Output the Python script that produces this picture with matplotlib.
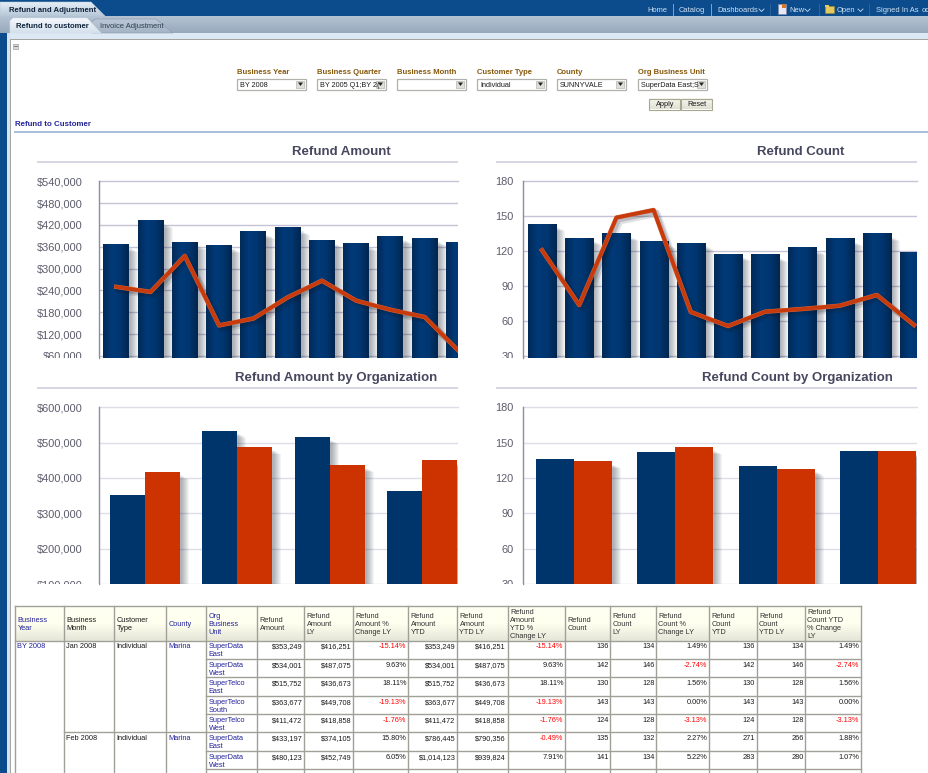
"""Refund and Adjustment dashboard: four charts, filter bar and detail table."""

import matplotlib
matplotlib.use("Agg")
import matplotlib.patheffects as pe
import matplotlib.pyplot as plt
import numpy as np
from matplotlib.colors import LinearSegmentedColormap
from matplotlib.patches import Polygon, Rectangle

WIDTH, HEIGHT = 929, 773

# monthly charts
amount_bars = [365500, 431000, 371000, 363000, 401000, 412000, 376000, 368000, 387000, 382000, 371000]
amount_line = [250000, 236000, 335000, 144000, 163000, 221000, 267000, 212000, 187000, 167000, 73000]
count_bars = [143.4, 131.4, 134.9, 128, 127.1, 117.7, 116.9, 122.9, 130.6, 134.9, 118.6]
count_line = [120.9, 74, 148.9, 155.4, 68, 56, 68.3, 70.6, 73.4, 82.6, 56.9]

# organization charts
org_amount = [353249, 534001, 515752, 363677]
org_amount_ly = [416251, 487075, 436673, 449708]
org_count = [136, 142, 130, 143]
org_count_ly = [134, 146, 128, 143]

amount_ticks = [60000, 120000, 180000, 240000, 300000, 360000, 420000, 480000, 540000]
org_amount_ticks = [100000, 200000, 300000, 400000, 500000, 600000]
count_ticks = [30, 60, 90, 120, 150, 180]

# filter bar
filter_labels = ["Business Year", "Business Quarter", "Business Month", "Customer Type", "County", "Org Business Unit"]
filter_values = ["BY 2008", "BY 2005 Q1;BY 2(", "", "Individual", "SUNNYVALE", "SuperData East;S"]
filter_left = [237, 317, 397, 477, 557, 638]

# table
table_headers = [
    ["Business", "Year"], ["Business", "Month"], ["Customer", "Type"], ["County"],
    ["Org", "Business", "Unit"], ["Refund", "Amount"], ["Refund", "Amount", "LY"],
    ["Refund", "Amount %", "Change LY"], ["Refund", "Amount", "YTD"], ["Refund", "Amount", "YTD LY"],
    ["Refund", "Amount", "YTD %", "Change LY"], ["Refund", "Count"], ["Refund", "Count", "LY"],
    ["Refund", "Count %", "Change LY"], ["Refund", "Count", "YTD"], ["Refund", "Count", "YTD LY"],
    ["Refund", "Count YTD", "% Change", "LY"],
]
org_units = [
    ["SuperData", "East"], ["SuperData", "West"], ["SuperTelco", "East"], ["SuperTelco", "South"],
    ["SuperTelco", "West"], ["SuperData", "East"], ["SuperData", "West"],
]
table_rows = [
    ["$353,249", "$416,251", "-15.14%", "$353,249", "$416,251", "-15.14%", "136", "134", "1.49%", "136", "134", "1.49%"],
    ["$534,001", "$487,075", "9.63%", "$534,001", "$487,075", "9.63%", "142", "146", "-2.74%", "142", "146", "-2.74%"],
    ["$515,752", "$436,673", "18.11%", "$515,752", "$436,673", "18.11%", "130", "128", "1.56%", "130", "128", "1.56%"],
    ["$363,677", "$449,708", "-19.13%", "$363,677", "$449,708", "-19.13%", "143", "143", "0.00%", "143", "143", "0.00%"],
    ["$411,472", "$418,858", "-1.76%", "$411,472", "$418,858", "-1.76%", "124", "128", "-3.13%", "124", "128", "-3.13%"],
    ["$433,197", "$374,105", "15.80%", "$786,445", "$790,356", "-0.49%", "135", "132", "2.27%", "271", "266", "1.88%"],
    ["$480,123", "$452,749", "6.05%", "$1,014,123", "$939,824", "7.91%", "141", "134", "5.22%", "283", "280", "1.07%"],
]
column_edges = [15.5, 64.5, 114.5, 166.5, 206.5, 257.5, 304.5, 353.5, 408.5, 457.5, 508, 565.5, 610.5, 656.5, 709.5, 757, 805.5, 861.5]
row_edges = [641, 659.3, 677.3, 696.3, 714.3, 732.3, 751.3, 769.3, 773]

NAVY = "#00356B"
ORANGE = "#CC3300"
LINE_COLOR = "#C63A0C"
TICK_COLOR = "#5C5C6C"
TITLE_COLOR = "#47475F"
BLUE_TEXT = "#22229A"
DARK_TEXT = "#1A1A1A"
BORDER = "#A0A098"
NAV_BLUE = "#0D4C8C"

plt.rcParams["font.family"] = ["Liberation Sans", "DejaVu Sans"]

BAR_SHADOW = [
    pe.SimplePatchShadow(offset=(dx, dy), shadow_rgbFace="#20283A", alpha=0.05)
    for dx, dy in [(6.5, -5), (5.8, -4.6), (5.1, -4.2), (4.4, -3.8), (3.7, -3.4), (3, -3), (2.2, -2.6), (1.5, -2.2)]
] + [pe.Normal()]
LINE_EFFECTS = [
    pe.SimpleLineShadow(offset=(2.5, -2.5), shadow_color="#101828", alpha=0.12, linewidth=5),
    pe.SimpleLineShadow(offset=(1.5, -1.5), shadow_color="#101828", alpha=0.18, linewidth=4),
    pe.Stroke(linewidth=3.2, foreground="#D8663C"),
    pe.Normal(),
]
bar_gradient = LinearSegmentedColormap.from_list("bar", ["#022A58", "#003A78", "#003670", "#02264F"])


def px_axes(fig, left, right, top, bottom):
    return fig.add_axes([left / WIDTH, 1 - bottom / HEIGHT, (right - left) / WIDTH, (bottom - top) / HEIGHT])


def style_axes(ax, ticks, ylim, xlim, labels, grid_color, pad):
    ax.set_xlim(*xlim)
    ax.set_ylim(*ylim)
    ax.set_yticks(ticks)
    ax.set_yticklabels(labels, fontsize=7.9, color=TICK_COLOR)
    ax.set_xticks([])
    ax.tick_params(axis="y", length=0, pad=pad)
    ax.grid(axis="y", color=grid_color, linewidth=1.0)
    ax.set_axisbelow(True)
    for side in ["top", "right", "bottom"]:
        ax.spines[side].set_visible(False)
    ax.spines["left"].set_color("#8C8CA4")
    ax.spines["left"].set_linewidth(1.0)


def monthly_chart(ax, bars, line, step_width, ticks, ylim, xlim, labels, pad):
    x = np.arange(len(bars))
    ax.set_autoscale_on(False)
    ax.set_xlim(*xlim)
    ax.set_ylim(*ylim)
    drawn = ax.bar(x, bars, width=step_width, color=NAVY, zorder=2, path_effects=BAR_SHADOW)
    for patch, top in zip(drawn, bars):
        ax.imshow(
            np.linspace(0, 1, 32).reshape(1, -1),
            cmap=bar_gradient,
            aspect="auto",
            extent=[patch.get_x(), patch.get_x() + patch.get_width(), ylim[0], top],
            zorder=2.1,
        )
    ax.plot(x, line, color=LINE_COLOR, linewidth=2.6, solid_joinstyle="round", zorder=3, path_effects=LINE_EFFECTS)
    style_axes(ax, ticks, ylim, xlim, labels, "#C4C4D6", pad)


def org_chart(ax, current, last_year, width, ticks, ylim, xlim, labels, pad):
    x = np.arange(len(current))
    ax.bar(x - width / 2, current, width=width, color=NAVY, zorder=2, path_effects=BAR_SHADOW)
    ax.bar(x + width / 2, last_year, width=width, color=ORANGE, zorder=2, path_effects=BAR_SHADOW)
    style_axes(ax, ticks, ylim, xlim, labels, "#DEDEE8", pad)


def rect(ax, x0, y0, x1, y1, face, edge="none", lw=0.0, zorder=1):
    ax.add_patch(Rectangle((x0, y0), x1 - x0, y1 - y0, facecolor=face, edgecolor=edge, linewidth=lw, zorder=zorder))


def gradient(ax, x0, y0, x1, y1, colors, clip=None, zorder=0.6):
    cmap = LinearSegmentedColormap.from_list("g", colors)
    image = ax.imshow(
        np.linspace(0, 1, 32).reshape(-1, 1),
        cmap=cmap,
        aspect="auto",
        extent=[x0, x1, y1, y0],
        zorder=zorder,
    )
    if clip is not None:
        image.set_clip_path(clip)


def tab(ax, points, colors, zorder=0.7, edge="#8A9AAC"):
    poly = Polygon(points, closed=True, facecolor="none", edgecolor=edge, linewidth=0.4, zorder=zorder + 0.01)
    ax.add_patch(poly)
    ys = [p[1] for p in points]
    xs = [p[0] for p in points]
    gradient(ax, min(xs), min(ys), max(xs), max(ys), colors, clip=poly, zorder=zorder)


def chevron(ax, x, y):
    ax.plot([x, x + 2.5, x + 5], [y, y + 2.5, y], color="#C8DCEC", linewidth=0.6, zorder=2)


def draw_chrome(ax):
    # white strips cut off the axis labels that overflow the chart boxes
    rect(ax, 20, 358.3, 99, 366, "white", zorder=0.5)
    rect(ax, 497, 358.3, 523, 366, "white", zorder=0.5)
    rect(ax, 20, 584.3, 99, 600, "white", zorder=0.5)
    rect(ax, 497, 584.3, 523, 600, "white", zorder=0.5)

    rect(ax, 0, 0, WIDTH, 16, NAV_BLUE, zorder=0.55)
    gradient(ax, 0, 16, WIDTH, 33, ["#B4C3D3", "#98A9BC"], zorder=0.55)
    rect(ax, 0, 33, WIDTH, 39, "#DCE8F4", zorder=0.55)
    rect(ax, 0, 33, 7.5, HEIGHT, NAV_BLUE, zorder=0.56)
    rect(ax, 7.5, 33, 10, HEIGHT, "#D4E4F4", zorder=0.56)
    rect(ax, 10, 39, 11, HEIGHT, "#A4A4A0", zorder=0.56)
    rect(ax, 10, 39, WIDTH, 40, "#A4A4A0", zorder=0.56)

    tab(ax, [(0, 16), (0, 2), (91, 2), (105, 16)], ["#E4EEF6", "#B8C8D8"], zorder=0.65, edge="#B8C8D8")
    tab(ax, [(92, 33), (92, 21), (96, 19), (156, 19), (173, 33)], ["#BAC7D6", "#A4B4C6"], zorder=0.7)
    tab(ax, [(10, 33), (10, 21), (13, 18), (87, 18), (101, 33)], ["#F4F8FC", "#D4E0EC"], zorder=0.75, edge="#D4E0EC")
    ax.text(9, 10.8, "Refund and Adjustment", fontsize=5.6, fontweight="bold", color="#10243C", va="center", zorder=3)
    ax.text(16, 27, "Refund to customer", fontsize=5.6, fontweight="bold", color="#10243C", va="center", zorder=3)
    ax.text(100, 27, "Invoice Adjustment", fontsize=5.4, color="#2C3C4C", va="center", zorder=3)

    for label, x in [("Home", 647), ("Catalog", 679), ("Dashboards", 717), ("New", 789), ("Open", 837), ("Signed In As", 876), ("oc", 922)]:
        ax.text(x, 10, label, fontsize=5.4, color="#CFE2F2", va="center", zorder=3)
    for x in [673, 711]:
        ax.plot([x, x], [4, 15], color="#7FA4C8", linewidth=0.7, zorder=2)
    for x in [770, 819, 869]:
        ax.plot([x, x], [4, 15], color="#2A629C", linewidth=0.7, zorder=2)
    chevron(ax, 759, 9)
    chevron(ax, 805, 9)
    chevron(ax, 858, 9)
    rect(ax, 778, 4, 786, 14, "#E8E8F4", "#8888A8", 0.4, zorder=2)
    rect(ax, 782, 4, 786, 8, "#D87820", zorder=2.1)
    rect(ax, 825, 6, 834, 13, "#E4C860", "#A08828", 0.4, zorder=2)
    rect(ax, 825, 5, 829, 7, "#E4C860", zorder=2)

    # collapse icon
    rect(ax, 13.5, 43.5, 18.5, 48.5, "#D8D8D8", "#A0A0A0", 0.5)
    ax.plot([14.5, 17.5], [46, 46], color="#707070", linewidth=0.6, zorder=2)

    # filter prompts
    for label, value, left in zip(filter_labels, filter_values, filter_left):
        ax.text(left, 73, label, fontsize=5.5, fontweight="bold", color="#86570A", va="center", zorder=3)
        rect(ax, left + 0.5, 78.5, left + 69, 89.5, "white", "#B0B0AC", 0.9)
        ax.text(left + 3, 85.8, value, fontsize=5.2, color=DARK_TEXT, va="center", zorder=3)
        rect(ax, left + 59.5, 80.5, left + 67.5, 87.5, "#DEDEDA", "#A8A8A4", 0.4, zorder=2)
        ax.add_patch(Polygon([(left + 61, 82.5), (left + 66, 82.5), (left + 63.5, 86)], closed=True, facecolor="#222222", zorder=3))
    for label, x0, x1 in [("Apply", 649.5, 680), ("Reset", 681.5, 712)]:
        gradient(ax, x0, 98.5, x1, 109.5, ["#F8F8F0", "#E0E0D4"], zorder=1)
        rect(ax, x0, 98.5, x1, 109.5, "none", "#A8A890", 0.8, zorder=2)
        ax.text((x0 + x1) / 2, 104.8, label, fontsize=5.3, color=DARK_TEXT, ha="center", va="center", zorder=3)

    ax.text(15, 124.5, "Refund to Customer", fontsize=5.7, fontweight="bold", color=BLUE_TEXT, va="center", zorder=3)
    rect(ax, 14, 131, WIDTH, 133, "#A8C0DC")

    # chart titles and their rules
    for title, cx, cy, x0, x1, rule in [
        ("Refund Amount", 341, 152, 37, 458, 162),
        ("Refund Count", 801, 152, 496, 917, 162),
        ("Refund Amount by Organization", 336, 378, 37, 458, 388),
        ("Refund Count by Organization", 797, 378, 496, 917, 388),
    ]:
        ax.text(cx, cy, title, fontsize=9.5, fontweight="bold", color=TITLE_COLOR, ha="center", va="center", zorder=3)
        rect(ax, x0, rule - 1, x1, rule + 1, "#D6D6E4")


def draw_line_block(ax, x, y, lines, color, ha="left", size=5.3):
    for i, line in enumerate(lines):
        ax.text(x, y + i * 8, line, fontsize=size, color=color, ha=ha, va="center", zorder=3)


def draw_table(ax):
    left, right = column_edges[0], column_edges[-1]
    top, head_bottom = 606.3, row_edges[0]
    gradient(ax, left, top, right, head_bottom, ["#FFFFF2", "#FFFFF0", "#E6E6D8"], zorder=0.7)

    header_colors = [BLUE_TEXT, DARK_TEXT, DARK_TEXT, BLUE_TEXT, BLUE_TEXT] + ["#333333"] * 12
    for i, lines in enumerate(table_headers):
        y = (top + head_bottom) / 2 - (len(lines) - 1) * 4 + 0.5
        draw_line_block(ax, column_edges[i] + 2, y, lines, header_colors[i])

    # borders: merged cells keep their inner row lines out of the first columns
    for x in column_edges:
        ax.plot([x, x], [top, HEIGHT], color=BORDER, linewidth=1.0, zorder=2)
    ax.plot([left, right], [top, top], color=BORDER, linewidth=1.0, zorder=2)
    ax.plot([left, right], [head_bottom, head_bottom], color=BORDER, linewidth=1.0, zorder=2)
    ax.plot([column_edges[1], column_edges[4]], [row_edges[5], row_edges[5]], color=BORDER, linewidth=1.0, zorder=2)
    for y in row_edges[1:-1]:
        ax.plot([column_edges[4], right], [y, y], color=BORDER, linewidth=1.0, zorder=2)

    # row heading cells
    draw_line_block(ax, column_edges[0] + 2, 647, ["BY 2008"], BLUE_TEXT)
    for y, month in [(647, "Jan 2008"), (739, "Feb 2008")]:
        draw_line_block(ax, column_edges[1] + 2, y, [month], DARK_TEXT)
        draw_line_block(ax, column_edges[2] + 2, y, ["Individual"], DARK_TEXT)
        draw_line_block(ax, column_edges[3] + 2, y, ["Marina"], BLUE_TEXT)

    for r, (unit, row) in enumerate(zip(org_units, table_rows)):
        y = row_edges[r] + 6
        draw_line_block(ax, column_edges[4] + 2, y, unit, BLUE_TEXT)
        for c, value in enumerate(row):
            color = "#FF0000" if value.startswith("-") else DARK_TEXT
            draw_line_block(ax, column_edges[c + 6] - 2, y, [value], color, ha="right")


def main():
    fig = plt.figure(figsize=(WIDTH / 100, HEIGHT / 100), dpi=100, facecolor="white")

    ax_amount = px_axes(fig, 99.3, 458, 181.3, 358)
    monthly_chart(
        ax_amount, amount_bars, amount_line, 26 / 34.3, amount_ticks, (54500, 540000), (-0.495, 9.97),
        [f"${v:,}" for v in amount_ticks], 12,
    )
    ax_count = px_axes(fig, 523.3, 917, 181.3, 358)
    monthly_chart(
        ax_count, count_bars, count_line, 28 / 37.2, count_ticks, (28.6, 180), (-0.503, 10.08),
        [str(v) for v in count_ticks], 7,
    )
    ax_org_amount = px_axes(fig, 99.3, 458, 407.3, 584)
    org_chart(
        ax_org_amount, org_amount, org_amount_ly, 0.378, org_amount_ticks, (100000, 600000), (-0.495, 3.39),
        [f"${v:,}" for v in org_amount_ticks], 12,
    )
    ax_org_count = px_axes(fig, 523.3, 917, 407.3, 584)
    org_chart(
        ax_org_count, org_count, org_count_ly, 0.375, count_ticks, (30, 180), (-0.5, 3.386),
        [str(v) for v in count_ticks], 7,
    )

    # gridlines on the limits would be cut in half by the axes clip
    for ax in [ax_amount, ax_count, ax_org_amount, ax_org_count]:
        ax.yaxis.get_gridlines()[-1].set_clip_on(False)

    overlay = fig.add_axes([0, 0, 1, 1], zorder=10)
    overlay.set_xlim(0, WIDTH)
    overlay.set_ylim(HEIGHT, 0)
    overlay.set_autoscale_on(False)
    overlay.axis("off")
    draw_chrome(overlay)
    draw_table(overlay)

    fig.savefig("out.png", dpi=100)
    plt.close(fig)


if __name__ == "__main__":
    main()
